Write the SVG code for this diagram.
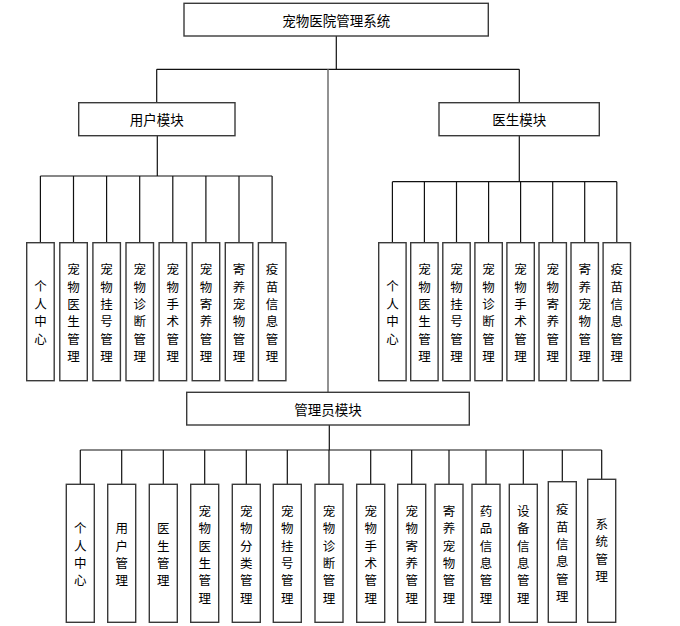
<svg xmlns="http://www.w3.org/2000/svg" width="680" height="626" viewBox="0 0 680 626">
<style>
.box{fill:#fff;stroke:#3a3a3a;stroke-width:1.4}
.ln{fill:none;stroke:#111;stroke-width:1.2}
.lg{fill:none;stroke:#777;stroke-width:1.6}
.t{font-family:"Noto Sans CJK SC","Liberation Sans",sans-serif;font-size:13.5px;fill:#000;text-anchor:middle;dominant-baseline:central}
.v{font-family:"Noto Sans CJK SC","Liberation Sans",sans-serif;font-size:12.5px;fill:#000;text-anchor:middle;dominant-baseline:central}
</style>
<rect width="680" height="626" fill="#fff"/>
<g id="connectors">
<path class="ln" d="M336.3 36V69.3M156.7 69.3H519.3M156.7 69.3V102.7M519.3 69.3V102.7"/>
<path class="lg" d="M328 69.3V392.3"/>
<path class="ln" d="M157.3 135.7V176M40.4 176H272.1M40.4 176V242.7M73.5 176V242.7M106.6 176V242.7M139.7 176V242.7M172.8 176V242.7M205.9 176V242.7M239 176V242.7M272.1 176V242.7"/>
<path class="ln" d="M519.3 135.7V181.7M392.4 181.7H616.8M392.4 181.7V242.7M424.4 181.7V242.7M456.5 181.7V242.7M488.6 181.7V242.7M520.6 181.7V242.7M552.7 181.7V242.7M584.7 181.7V242.7M616.8 181.7V242.7"/>
<path class="ln" d="M329.3 425V450M80.3 450H601.7M80.3 450V484.3M121.7 450V484.3M163.3 450V484.3M204.7 450V484.3M246.3 450V484.3M287.3 450V484.3M329 450V484.3M370.7 450V484.3M411.7 450V484.3M449 450V484.3M486 450V484.3M523.3 450V484.3M562.3 450V481.7M601.7 450V479.3"/>
</g>
<g id="root"><rect class="box" x="184" y="3.3" width="304.3" height="32.7"/><text class="t" x="336.2" y="19.7">宠物医院管理系统</text></g>
<g id="user"><rect class="box" x="78.7" y="102.7" width="156.3" height="33"/><text class="t" x="156.8" y="119.2">用户模块</text></g>
<g id="doctor"><rect class="box" x="439" y="102.7" width="160.3" height="33"/><text class="t" x="519.2" y="119.2">医生模块</text></g>
<g id="admin"><rect class="box" x="186.7" y="392.3" width="282.6" height="32.7"/><text class="t" x="328" y="408.7">管理员模块</text></g>

<g id="u1"><rect class="box" x="26.7" y="242.7" width="27.5" height="138"/><text class="v" x="40.4" y="285.9">个<tspan x="40.4" dy="17.2">人</tspan><tspan x="40.4" dy="17.2">中</tspan><tspan x="40.4" dy="17.2">心</tspan></text></g>
<g id="u2"><rect class="box" x="59.8" y="242.7" width="27.5" height="138"/><text class="v" x="73.5" y="268.7">宠<tspan x="73.5" dy="17.2">物</tspan><tspan x="73.5" dy="17.2">医</tspan><tspan x="73.5" dy="17.2">生</tspan><tspan x="73.5" dy="17.2">管</tspan><tspan x="73.5" dy="17.2">理</tspan></text></g>
<g id="u3"><rect class="box" x="92.9" y="242.7" width="27.5" height="138"/><text class="v" x="106.6" y="268.7">宠<tspan x="106.6" dy="17.2">物</tspan><tspan x="106.6" dy="17.2">挂</tspan><tspan x="106.6" dy="17.2">号</tspan><tspan x="106.6" dy="17.2">管</tspan><tspan x="106.6" dy="17.2">理</tspan></text></g>
<g id="u4"><rect class="box" x="126" y="242.7" width="27.5" height="138"/><text class="v" x="139.7" y="268.7">宠<tspan x="139.7" dy="17.2">物</tspan><tspan x="139.7" dy="17.2">诊</tspan><tspan x="139.7" dy="17.2">断</tspan><tspan x="139.7" dy="17.2">管</tspan><tspan x="139.7" dy="17.2">理</tspan></text></g>
<g id="u5"><rect class="box" x="159.1" y="242.7" width="27.5" height="138"/><text class="v" x="172.8" y="268.7">宠<tspan x="172.8" dy="17.2">物</tspan><tspan x="172.8" dy="17.2">手</tspan><tspan x="172.8" dy="17.2">术</tspan><tspan x="172.8" dy="17.2">管</tspan><tspan x="172.8" dy="17.2">理</tspan></text></g>
<g id="u6"><rect class="box" x="192.2" y="242.7" width="27.5" height="138"/><text class="v" x="205.9" y="268.7">宠<tspan x="205.9" dy="17.2">物</tspan><tspan x="205.9" dy="17.2">寄</tspan><tspan x="205.9" dy="17.2">养</tspan><tspan x="205.9" dy="17.2">管</tspan><tspan x="205.9" dy="17.2">理</tspan></text></g>
<g id="u7"><rect class="box" x="225.3" y="242.7" width="27.5" height="138"/><text class="v" x="239" y="268.7">寄<tspan x="239" dy="17.2">养</tspan><tspan x="239" dy="17.2">宠</tspan><tspan x="239" dy="17.2">物</tspan><tspan x="239" dy="17.2">管</tspan><tspan x="239" dy="17.2">理</tspan></text></g>
<g id="u8"><rect class="box" x="258.4" y="242.7" width="27.5" height="138"/><text class="v" x="272.1" y="268.7">疫<tspan x="272.1" dy="17.2">苗</tspan><tspan x="272.1" dy="17.2">信</tspan><tspan x="272.1" dy="17.2">息</tspan><tspan x="272.1" dy="17.2">管</tspan><tspan x="272.1" dy="17.2">理</tspan></text></g>

<g id="d1"><rect class="box" x="378.7" y="242.7" width="27.4" height="138"/><text class="v" x="392.4" y="285.9">个<tspan x="392.4" dy="17.2">人</tspan><tspan x="392.4" dy="17.2">中</tspan><tspan x="392.4" dy="17.2">心</tspan></text></g>
<g id="d2"><rect class="box" x="410.7" y="242.7" width="27.4" height="138"/><text class="v" x="424.4" y="268.7">宠<tspan x="424.4" dy="17.2">物</tspan><tspan x="424.4" dy="17.2">医</tspan><tspan x="424.4" dy="17.2">生</tspan><tspan x="424.4" dy="17.2">管</tspan><tspan x="424.4" dy="17.2">理</tspan></text></g>
<g id="d3"><rect class="box" x="442.8" y="242.7" width="27.4" height="138"/><text class="v" x="456.5" y="268.7">宠<tspan x="456.5" dy="17.2">物</tspan><tspan x="456.5" dy="17.2">挂</tspan><tspan x="456.5" dy="17.2">号</tspan><tspan x="456.5" dy="17.2">管</tspan><tspan x="456.5" dy="17.2">理</tspan></text></g>
<g id="d4"><rect class="box" x="474.9" y="242.7" width="27.4" height="138"/><text class="v" x="488.6" y="268.7">宠<tspan x="488.6" dy="17.2">物</tspan><tspan x="488.6" dy="17.2">诊</tspan><tspan x="488.6" dy="17.2">断</tspan><tspan x="488.6" dy="17.2">管</tspan><tspan x="488.6" dy="17.2">理</tspan></text></g>
<g id="d5"><rect class="box" x="506.9" y="242.7" width="27.4" height="138"/><text class="v" x="520.6" y="268.7">宠<tspan x="520.6" dy="17.2">物</tspan><tspan x="520.6" dy="17.2">手</tspan><tspan x="520.6" dy="17.2">术</tspan><tspan x="520.6" dy="17.2">管</tspan><tspan x="520.6" dy="17.2">理</tspan></text></g>
<g id="d6"><rect class="box" x="539" y="242.7" width="27.4" height="138"/><text class="v" x="552.7" y="268.7">宠<tspan x="552.7" dy="17.2">物</tspan><tspan x="552.7" dy="17.2">寄</tspan><tspan x="552.7" dy="17.2">养</tspan><tspan x="552.7" dy="17.2">管</tspan><tspan x="552.7" dy="17.2">理</tspan></text></g>
<g id="d7"><rect class="box" x="571" y="242.7" width="27.4" height="138"/><text class="v" x="584.7" y="268.7">寄<tspan x="584.7" dy="17.2">养</tspan><tspan x="584.7" dy="17.2">宠</tspan><tspan x="584.7" dy="17.2">物</tspan><tspan x="584.7" dy="17.2">管</tspan><tspan x="584.7" dy="17.2">理</tspan></text></g>
<g id="d8"><rect class="box" x="603.1" y="242.7" width="27.4" height="138"/><text class="v" x="616.8" y="268.7">疫<tspan x="616.8" dy="17.2">苗</tspan><tspan x="616.8" dy="17.2">信</tspan><tspan x="616.8" dy="17.2">息</tspan><tspan x="616.8" dy="17.2">管</tspan><tspan x="616.8" dy="17.2">理</tspan></text></g>

<g id="a1"><rect class="box" x="66.3" y="484.3" width="28" height="138"/><text class="v" x="80.3" y="527.4">个<tspan x="80.3" dy="17.3">人</tspan><tspan x="80.3" dy="17.3">中</tspan><tspan x="80.3" dy="17.3">心</tspan></text></g>
<g id="a2"><rect class="box" x="107.7" y="484.3" width="28" height="138"/><text class="v" x="121.7" y="527.4">用<tspan x="121.7" dy="17.3">户</tspan><tspan x="121.7" dy="17.3">管</tspan><tspan x="121.7" dy="17.3">理</tspan></text></g>
<g id="a3"><rect class="box" x="149.3" y="484.3" width="28" height="138"/><text class="v" x="163.3" y="527.4">医<tspan x="163.3" dy="17.3">生</tspan><tspan x="163.3" dy="17.3">管</tspan><tspan x="163.3" dy="17.3">理</tspan></text></g>
<g id="a4"><rect class="box" x="190.7" y="484.3" width="28" height="138"/><text class="v" x="204.7" y="510.1">宠<tspan x="204.7" dy="17.3">物</tspan><tspan x="204.7" dy="17.3">医</tspan><tspan x="204.7" dy="17.3">生</tspan><tspan x="204.7" dy="17.3">管</tspan><tspan x="204.7" dy="17.3">理</tspan></text></g>
<g id="a5"><rect class="box" x="232.3" y="484.3" width="28" height="138"/><text class="v" x="246.3" y="510.1">宠<tspan x="246.3" dy="17.3">物</tspan><tspan x="246.3" dy="17.3">分</tspan><tspan x="246.3" dy="17.3">类</tspan><tspan x="246.3" dy="17.3">管</tspan><tspan x="246.3" dy="17.3">理</tspan></text></g>
<g id="a6"><rect class="box" x="273.3" y="484.3" width="28" height="138"/><text class="v" x="287.3" y="510.1">宠<tspan x="287.3" dy="17.3">物</tspan><tspan x="287.3" dy="17.3">挂</tspan><tspan x="287.3" dy="17.3">号</tspan><tspan x="287.3" dy="17.3">管</tspan><tspan x="287.3" dy="17.3">理</tspan></text></g>
<g id="a7"><rect class="box" x="315" y="484.3" width="28" height="138"/><text class="v" x="329" y="510.1">宠<tspan x="329" dy="17.3">物</tspan><tspan x="329" dy="17.3">诊</tspan><tspan x="329" dy="17.3">断</tspan><tspan x="329" dy="17.3">管</tspan><tspan x="329" dy="17.3">理</tspan></text></g>
<g id="a8"><rect class="box" x="356.7" y="484.3" width="28" height="138"/><text class="v" x="370.7" y="510.1">宠<tspan x="370.7" dy="17.3">物</tspan><tspan x="370.7" dy="17.3">手</tspan><tspan x="370.7" dy="17.3">术</tspan><tspan x="370.7" dy="17.3">管</tspan><tspan x="370.7" dy="17.3">理</tspan></text></g>
<g id="a9"><rect class="box" x="397.7" y="484.3" width="28" height="138"/><text class="v" x="411.7" y="510.1">宠<tspan x="411.7" dy="17.3">物</tspan><tspan x="411.7" dy="17.3">寄</tspan><tspan x="411.7" dy="17.3">养</tspan><tspan x="411.7" dy="17.3">管</tspan><tspan x="411.7" dy="17.3">理</tspan></text></g>
<g id="a10"><rect class="box" x="435" y="484.3" width="28" height="138"/><text class="v" x="449" y="510.1">寄<tspan x="449" dy="17.3">养</tspan><tspan x="449" dy="17.3">宠</tspan><tspan x="449" dy="17.3">物</tspan><tspan x="449" dy="17.3">管</tspan><tspan x="449" dy="17.3">理</tspan></text></g>
<g id="a11"><rect class="box" x="472" y="484.3" width="28" height="138"/><text class="v" x="486" y="510.1">药<tspan x="486" dy="17.3">品</tspan><tspan x="486" dy="17.3">信</tspan><tspan x="486" dy="17.3">息</tspan><tspan x="486" dy="17.3">管</tspan><tspan x="486" dy="17.3">理</tspan></text></g>
<g id="a12"><rect class="box" x="509.3" y="484.3" width="28" height="138"/><text class="v" x="523.3" y="510.1">设<tspan x="523.3" dy="17.3">备</tspan><tspan x="523.3" dy="17.3">信</tspan><tspan x="523.3" dy="17.3">息</tspan><tspan x="523.3" dy="17.3">管</tspan><tspan x="523.3" dy="17.3">理</tspan></text></g>
<g id="a13"><rect class="box" x="548.3" y="481.7" width="28" height="140.6"/><text class="v" x="562.3" y="508.3">疫<tspan x="562.3" dy="17.3">苗</tspan><tspan x="562.3" dy="17.3">信</tspan><tspan x="562.3" dy="17.3">息</tspan><tspan x="562.3" dy="17.3">管</tspan><tspan x="562.3" dy="17.3">理</tspan></text></g>
<g id="a14"><rect class="box" x="587.7" y="479.3" width="28" height="143"/><text class="v" x="601.7" y="523">系<tspan x="601.7" dy="17.3">统</tspan><tspan x="601.7" dy="17.3">管</tspan><tspan x="601.7" dy="17.3">理</tspan></text></g>
</svg>
